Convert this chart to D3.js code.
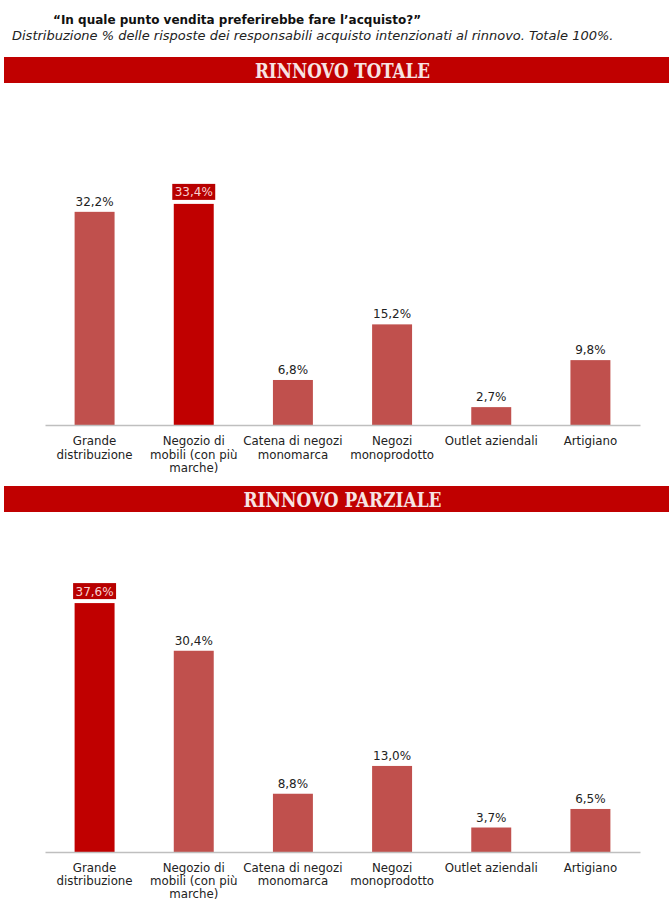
<!DOCTYPE html>
<html>
<head>
<meta charset="utf-8">
<script src="https://cdn.jsdelivr.net/npm/d3@7"></script>
<style>
  html, body { margin: 0; padding: 0; background: #fff; }
  svg { display: block; }
</style>
</head>
<body>
<svg id="chart" width="669" height="900"></svg>
<script>
// Categories (multi-line labels) and shares in percent
const categories = [
  ["Grande", "distribuzione"],
  ["Negozio di", "mobili (con più", "marche)"],
  ["Catena di negozi", "monomarca"],
  ["Negozi", "monoprodotto"],
  ["Outlet aziendali"],
  ["Artigiano"]
];
const totaleValues = [32.2, 33.4, 6.8, 15.2, 2.7, 9.8];
const parzialeValues = [37.6, 30.4, 8.8, 13.0, 3.7, 6.5];
const totaleLabels = ["32,2%", "33,4%", "6,8%", "15,2%", "2,7%", "9,8%"];
const parzialeLabels = ["37,6%", "30,4%", "8,8%", "13,0%", "3,7%", "6,5%"];
const sections = [
  { title: "RINNOVO TOTALE", values: totaleValues, labels: totaleLabels },
  { title: "RINNOVO PARZIALE", values: parzialeValues, labels: parzialeLabels }
];

const svg = d3.select("#chart");
const W = 669;
const barColor = "#c0504d";
const topColor = "#c00000";

// Heading
svg.append("text")
  .attr("x", 53).attr("y", 24)
  .attr("font-family", "DejaVu Sans").attr("font-weight", "bold")
  .attr("font-size", 12).attr("fill", "#111")
  .text("“In quale punto vendita preferirebbe fare l’acquisto?”");
svg.append("text")
  .attr("x", 12).attr("y", 40)
  .attr("font-family", "DejaVu Sans").attr("font-style", "italic")
  .attr("font-size", 13).attr("fill", "#222")
  .text("Distribuzione % delle risposte dei responsabili acquisto intenzionati al rinnovo. Totale 100%.");

const x = d3.scaleBand()
  .domain(d3.range(categories.length))
  .range([45, 640])
  .paddingInner(0.597)
  .paddingOuter(0.2985);

const panels = [
  { bannerTop: 57, baseline: 425, labelGap: 20, lineStep: 13.5 },
  { bannerTop: 486, baseline: 852, labelGap: 19.5, lineStep: 13 }
];

sections.forEach((sec, si) => {
  const p = panels[si];
  const g = svg.append("g");

  // Section banner
  g.append("rect")
    .attr("x", 4).attr("y", p.bannerTop)
    .attr("width", W - 4).attr("height", 26)
    .attr("fill", topColor);
  g.append("text")
    .attr("x", W / 2 + 8).attr("y", p.bannerTop + 21)
    .attr("text-anchor", "middle")
    .attr("font-family", "DejaVu Serif").attr("font-weight", "bold")
    .attr("font-stretch", "condensed")
    .attr("font-size", 21).attr("fill", "#f7e4e4")
    .attr("textLength", si === 0 ? 175 : 198)
    .attr("lengthAdjust", "spacingAndGlyphs")
    .text(sec.title);

  const y = d3.scaleLinear().domain([0, 40]).range([p.baseline, p.baseline - 264.8]);
  const maxIdx = d3.maxIndex(sec.values);

  // Bars
  g.selectAll("rect.bar").data(sec.values).join("rect")
    .attr("class", "bar")
    .attr("x", (d, i) => x(i))
    .attr("y", d => y(d))
    .attr("width", x.bandwidth())
    .attr("height", d => y(0) - y(d))
    .attr("fill", (d, i) => i === maxIdx ? topColor : barColor);

  // Baseline axis
  const axis = g.append("g")
    .attr("transform", `translate(0,${p.baseline})`)
    .call(d3.axisBottom(x).tickSize(0).tickFormat(""));
  axis.select(".domain").attr("stroke", "#bfbfbf").attr("stroke-width", 1.5);

  // Value labels
  sec.values.forEach((v, i) => {
    const cx = x(i) + x.bandwidth() / 2;
    if (i === maxIdx) {
      g.append("rect")
        .attr("x", x(i) - 1.5).attr("y", y(v) - 20)
        .attr("width", x.bandwidth() + 3).attr("height", 16)
        .attr("fill", "#b80000");
      g.append("text")
        .attr("x", cx).attr("y", y(v) - 7.5)
        .attr("text-anchor", "middle")
        .attr("font-family", "DejaVu Sans").attr("font-size", 12)
        .attr("fill", "#f8d2d2")
        .text(sec.labels[i]);
    } else {
      g.append("text")
        .attr("x", cx).attr("y", y(v) - 6)
        .attr("text-anchor", "middle")
        .attr("font-family", "DejaVu Sans").attr("font-size", 12)
        .attr("fill", "#222")
        .text(sec.labels[i]);
    }
  });

  // Category labels
  categories.forEach((lines, i) => {
    const t = g.append("text")
      .attr("x", x(i) + x.bandwidth() / 2)
      .attr("y", p.baseline + p.labelGap)
      .attr("text-anchor", "middle")
      .attr("font-family", "DejaVu Sans").attr("font-size", 11.8)
      .attr("fill", "#222");
    lines.forEach((ln, k) => {
      t.append("tspan")
        .attr("x", x(i) + x.bandwidth() / 2)
        .attr("dy", k === 0 ? 0 : p.lineStep)
        .text(ln);
    });
  });
});
</script>
</body>
</html>
